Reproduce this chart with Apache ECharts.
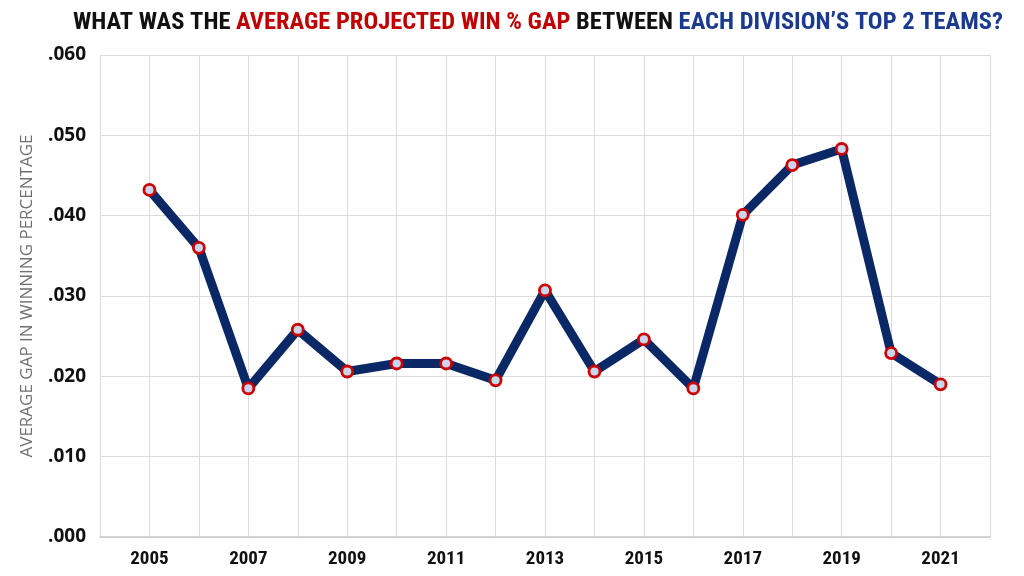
<!DOCTYPE html>
<html><head><meta charset="utf-8">
<script src="https://cdn.jsdelivr.net/npm/echarts@6/dist/echarts.min.js"></script>
<style>html,body{margin:0;padding:0;background:#fff}#c{width:1024px;height:576px}</style>
</head><body><div id="c"></div>
<script>
const years = [2005,2006,2007,2008,2009,2010,2011,2012,2013,2014,2015,2016,2017,2018,2019,2020,2021];
const gapValues = [0.0432,0.0360,0.0185,0.0258,0.0206,0.0216,0.0216,0.0195,0.0307,0.0206,0.0246,0.0185,0.0401,0.0463,0.0483,0.0229,0.0190];
const yTicks = ['.000','.010','.020','.030','.040','.050','.060'];

const FONT = "'Liberation Sans Narrow','Roboto Condensed','Open Sans',sans-serif";
const chart = echarts.init(document.getElementById('c'));
chart.setOption({
  animation:false,
  title:{
    left:68, top:5,
    text:'{k|WHAT WAS THE }{r|AVERAGE PROJECTED WIN % GAP}{k| BETWEEN }{b|EACH DIVISION’S TOP 2 TEAMS?}',
    textStyle:{
      rich:{
        k:{color:'#111',fontSize:24.5,fontWeight:'bold',fontFamily:FONT},
        r:{color:'#c00000',fontSize:24.5,fontWeight:'bold',fontFamily:FONT},
        b:{color:'#1a3a8f',fontSize:24.5,fontWeight:'bold',fontFamily:FONT}
      }
    }
  },
  grid:{left:100,right:34,top:55,bottom:39},
  xAxis:{
    type:'value', min:2004, max:2022, interval:1,
    axisLine:{show:true,lineStyle:{color:'#c8c8c8',width:1.5}},
    axisTick:{show:false},
    splitLine:{show:true,lineStyle:{color:'#dcdcdc',width:1}},
    axisLabel:{
      margin:13, color:'#111', fontSize:19, fontWeight:'bold', fontFamily:FONT,
      formatter:v => (v%2===1 && v>2004 && v<2022) ? String(v) : ''
    }
  },
  yAxis:{
    type:'value', min:0, max:0.06, interval:0.01,
    name:'AVERAGE GAP IN WINNING PERCENTAGE',
    nameLocation:'middle', nameGap:64, nameRotate:90,
    nameTextStyle:{color:'#707070',fontSize:17,fontFamily:"'Open Sans',sans-serif"},
    axisLine:{show:true,lineStyle:{color:'#dcdcdc'}},
    axisTick:{show:false},
    splitLine:{show:true,lineStyle:{color:'#dcdcdc',width:1}},
    axisLabel:{
      margin:14, color:'#111', fontSize:19, fontWeight:'bold', fontFamily:"'Open Sans',sans-serif",
      formatter:v => yTicks[Math.round(v*100)]
    }
  },
  series:[{
    type:'line',
    data:years.map((y,i)=>[y,gapValues[i]]),
    lineStyle:{color:'#0b2866',width:9},
    symbol:'circle', symbolSize:11,
    itemStyle:{color:'#c8d6ee',borderColor:'#cc0000',borderWidth:2.8},
    z:3
  }]
});
</script></body></html>
